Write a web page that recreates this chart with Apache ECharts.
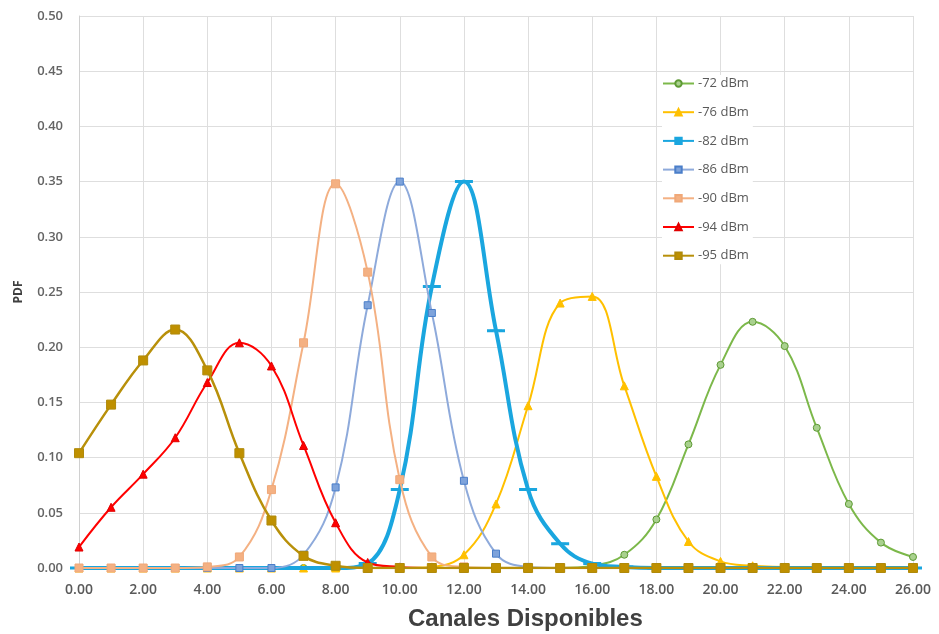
<!DOCTYPE html>
<html>
<head>
<meta charset="utf-8">
<script src="https://cdn.jsdelivr.net/npm/echarts@6/dist/echarts.min.js"></script>
<style>
html,body{margin:0;padding:0;background:#fff;}
#chart{width:939px;height:634px;}
</style>
</head>
<body>
<div id="chart"></div>
<script>
// x positions (Canales Disponibles)
const channels = [0,1,2,3,4,5,6,7,8,9,10,11,12,13,14,15,16,17,18,19,20,21,22,23,24,25,26];
const seriesNames = ['-72 dBm','-76 dBm','-82 dBm','-86 dBm','-90 dBm','-94 dBm','-95 dBm'];
const pdf72 = [0,0,0,0,0,0,0,0,0,0,0,0,0,0,0,0,0.002,0.012,0.044,0.112,0.184,0.223,0.201,0.127,0.058,0.023,0.010];
const pdf76 = [0,0,0,0,0,0,0,0,0,0,0,0.001,0.012,0.058,0.147,0.240,0.246,0.165,0.083,0.024,0.006,0.002,0.001,0,0,0,0];
const pdf82 = [0,0,0,0,0,0,0,0,0,0.004,0.071,0.255,0.350,0.215,0.071,0.022,0.004,0.001,0,0,0,0,0,0,0,0,0];
const pdf86 = [0,0,0,0,0,0,0,0.012,0.073,0.238,0.350,0.231,0.079,0.013,0.001,0,0,0,0,0,0,0,0,0,0,0,0];
const pdf90 = [0,0,0,0,0.001,0.010,0.071,0.204,0.348,0.268,0.080,0.010,0.001,0,0,0,0,0,0,0,0,0,0,0,0,0,0];
const pdf94 = [0.019,0.055,0.085,0.118,0.168,0.204,0.183,0.111,0.041,0.005,0.001,0,0,0,0,0,0,0,0,0,0,0,0,0,0,0,0];
const pdf95 = [0.104,0.148,0.188,0.216,0.179,0.104,0.043,0.011,0.002,0,0,0,0,0,0,0,0,0,0,0,0,0,0,0,0,0,0];
const xTicks = [0,2,4,6,8,10,12,14,16,18,20,22,24,26];

const values = [pdf72,pdf76,pdf82,pdf86,pdf90,pdf94,pdf95];
const styles = [
  {color:'#7CB84A', border:'#5E9A35', fill:'#A9D18E', symbol:'circle', size:7, width:2},
  {color:'#FFC000', border:'#FFC000', fill:'#FFC000', symbol:'triangle', size:8, width:2},
  {color:'#1AA6DF', border:'#1AA6DF', fill:'#1AA6DF', symbol:'rect', size:[12,2], width:4},
  {color:'#8EAADB', border:'#4A7EC9', fill:'#7EA3DB', symbol:'rect', size:7, width:2},
  {color:'#F4B183', border:'#F0A878', fill:'#F4B183', symbol:'rect', size:8, width:2},
  {color:'#FF0000', border:'#E00000', fill:'#FF0000', symbol:'triangle', size:8, width:2},
  {color:'#B8900A', border:'#B08A0A', fill:'#BF9000', symbol:'rect', size:9, width:2.5}
];

const series = seriesNames.map((name,i)=>({
  name: name,
  type: 'line',
  smooth: 0.4,
  data: channels.map((c,j)=>[c, values[i][j]]),
  symbol: styles[i].symbol,
  symbolSize: styles[i].size,
  showAllSymbol: true,
  lineStyle: {color: styles[i].color, width: styles[i].width},
  itemStyle: {color: styles[i].fill, borderColor: styles[i].border, borderWidth: 1},
  emphasis: {disabled: true},
  z: 2 + i
}));

const chart = echarts.init(document.getElementById('chart'));
chart.setOption({
  animation: false,
  backgroundColor: '#ffffff',
  grid: {left: 79, right: 26, top: 16, bottom: 66, containLabel: false},
  legend: {
    orient: 'vertical',
    left: 662,
    top: 75,
    itemWidth: 31,
    itemHeight: 8,
    itemGap: 15.7,
    padding: [2, 4, 2, 0],
    data: seriesNames,
    backgroundColor: '#ffffff',
    textStyle: {fontFamily: 'Open Sans', fontSize: 13, color: '#595959', padding: [0, 0, 0, -1]}
  },
  xAxis: {
    type: 'value',
    min: 0, max: 26, interval: 2,
    axisLine: {show: true, lineStyle: {color: '#BFBFBF', width: 1}},
    axisTick: {show: false},
    splitLine: {show: true, lineStyle: {color: '#DEDEDE', width: 1}},
    axisLabel: {
      fontFamily: 'Open Sans', fontSize: 14, color: '#595959', fontWeight: 600, margin: 15,
      formatter: v => xTicks.includes(v) ? v.toFixed(2) : ''
    }
  },
  yAxis: {
    type: 'value',
    min: 0, max: 0.5, interval: 0.05,
    name: 'PDF',
    nameLocation: 'middle',
    nameGap: 54,
    nameTextStyle: {fontFamily: 'Open Sans', fontSize: 12, fontWeight: 'bold', color: '#404040'},
    axisLine: {show: true, lineStyle: {color: '#D0D0D0', width: 1}},
    axisTick: {show: false},
    splitLine: {show: true, lineStyle: {color: '#DEDEDE', width: 1}},
    axisLabel: {
      fontFamily: 'Open Sans', fontSize: 13, color: '#646464', fontWeight: 600, margin: 16,
      formatter: v => v.toFixed(2)
    }
  },
  graphic: [{
    type: 'text',
    left: 408,
    top: 607,
    style: {
      text: 'Canales Disponibles',
      font: 'bold 24px "Liberation Sans", Arial, sans-serif',
      fill: '#404040'
    }
  }],
  series: series
});
</script>
</body>
</html>
